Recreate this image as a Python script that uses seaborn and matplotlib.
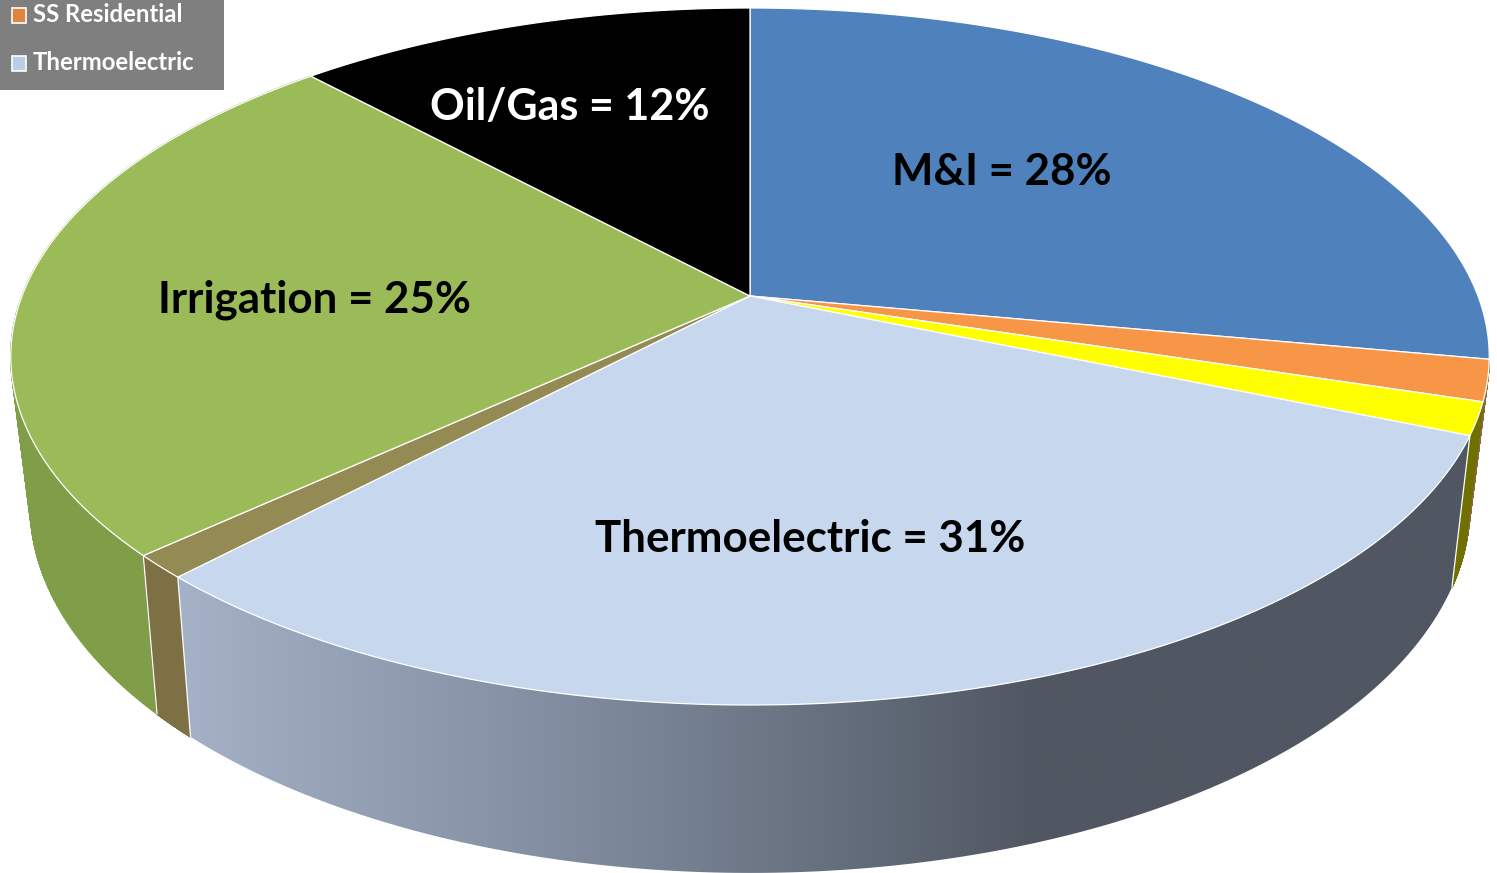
import numpy as np
import matplotlib
matplotlib.use('Agg')
import matplotlib.pyplot as plt
from matplotlib.patches import Polygon, Rectangle
from matplotlib.collections import PolyCollection
from matplotlib.colors import ListedColormap
import seaborn as sns

# shares clockwise from 12 o'clock
sources = ['M&I', 'SS Residential', 'SS Other', 'Thermoelectric', 'Livestock', 'Irrigation', 'Oil/Gas']
shares = [27.9, 1.9, 1.5, 30.75, 1.1, 24.95, 11.9]
top_colors = ['#4F81BD', '#F79646', '#FFFF00', '#C6D7EE', '#948A54', '#9BBB59', '#000000']
wall_colors = ['#3F6797', '#8A6A3A', '#707000', '#505762', '#7C7044', '#809E48', '#000000']
labelled = ['M&I', 'Thermoelectric', 'Irrigation', 'Oil/Gas']
legend_names = ['SS Residential', 'Thermoelectric']
legend_colors = ['#E0853F', '#B9CDE5']
wall_ramp = ['#A5B2C7', '#7D899B', '#505762']

sns.set_theme(style='white')
plt.rcParams['font.family'] = ['Lato', 'DejaVu Sans']

W, H = 1497, 873
fig = plt.figure(figsize=(W / 100, H / 100), dpi=100)
ax = fig.add_axes([0, 0, 1, 1])
ax.set_xlim(0, W)
ax.set_ylim(H, 0)
ax.axis('off')


# perspective of the disc, angle in degrees clockwise from the top
def rim(angle, w, k, cy, h):
    X = np.sin(np.radians(angle))
    Y = np.cos(np.radians(angle))
    return 750 + w * X / (1 + k * Y), cy - h * Y / (1 + k * Y)


def top_rim(angle):
    return rim(angle, 728, 0.1736, 296, 338)


def bottom_rim(angle):
    return rim(angle, 708, 0.18, 440, 355)


edges = np.cumsum([0] + shares) / sum(shares) * 360

# side walls first as small quads, the wall folds over at the silhouette
for i in [5, 1, 4, 2, 3]:
    a = np.linspace(edges[i], edges[i + 1], 200)
    tx, ty = top_rim(a)
    bx, by = bottom_rim(a)
    quads = [[(tx[j], ty[j]), (tx[j + 1], ty[j + 1]), (bx[j + 1], by[j + 1]), (bx[j], by[j])]
             for j in range(len(a) - 1)]
    if sources[i] == 'Thermoelectric':
        poly = Polygon(np.r_[np.c_[tx, ty], np.c_[bx, by][::-1]], closed=True, fc='none', ec='none')
        ax.add_patch(poly)
        cmap = ListedColormap(sns.blend_palette(wall_ramp, n_colors=256))
        xs = np.linspace(170, 1500, 666)
        im = ax.imshow(np.clip((xs - 170) / 870, 0, 1)[None, :], extent=[170, 1500, H, 0],
                       cmap=cmap, aspect='auto', zorder=2)
        im.set_clip_path(poly)
        ax.set_xlim(0, W)
        ax.set_ylim(H, 0)
    else:
        ax.add_collection(PolyCollection(quads, facecolors=wall_colors[i], edgecolors=wall_colors[i],
                                         linewidths=1.0, zorder=2))

# white seams on the front wall
for e in [edges[3], edges[4], edges[5]]:
    tx, ty = top_rim(e)
    bx, by = bottom_rim(e)
    ax.plot([tx, bx], [ty, by], color='white', lw=0.9, zorder=3)

# top surface
for i in range(len(shares)):
    a = np.linspace(edges[i], edges[i + 1], 200)
    tx, ty = top_rim(a)
    pts = np.r_[[[750, 296]], np.c_[tx, ty]]
    ax.add_patch(Polygon(pts, closed=True, fc=top_colors[i], ec='white', lw=0.9, zorder=4))

label_pos = {'M&I': (1002, 172), 'Thermoelectric': (810, 539),
             'Irrigation': (314, 300), 'Oil/Gas': (570, 107)}
label_size = {'M&I': 31.6, 'Thermoelectric': 31.6, 'Irrigation': 31.6, 'Oil/Gas': 31}
for name in labelled:
    v = shares[sources.index(name)]
    ax.text(*label_pos[name], f'{name} = {round(v)}%', fontsize=label_size[name], fontweight='bold',
            color='white' if name == 'Oil/Gas' else 'black',
            ha='center', va='center', zorder=5)

# piece of the legend left in the corner
ax.add_patch(Rectangle((0, 0), 224, 90, fc='#7F7F7F', ec='none', zorder=6))
for name, col, y in zip(legend_names, legend_colors, [15, 63]):
    ax.add_patch(Rectangle((12, y - 7.5), 14, 15, fc=col, ec='white', lw=1.2, zorder=7))
    ax.text(33, y, name, fontsize=17.2, fontweight='bold', color='white', ha='left', va='center', zorder=7)

fig.savefig('out.png', dpi=100)
